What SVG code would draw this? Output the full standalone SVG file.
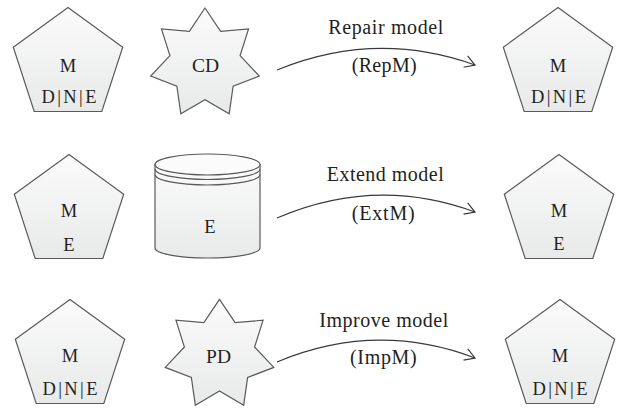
<svg xmlns="http://www.w3.org/2000/svg" xmlns:xlink="http://www.w3.org/1999/xlink" width="620" height="408" viewBox="0 0 620 408">
<style>
.shape{fill:url(#g);stroke:#5a5a5a;stroke-width:1.2;stroke-linejoin:miter}
text{font-family:'Liberation Serif','DejaVu Serif',serif;fill:#231f20}
.t{font-size:18.5px;text-anchor:middle}
.lbl{font-size:20px}
.conn{fill:none;stroke:#3a3a3a;stroke-width:1.2}
.lid{fill:#fbfbfb;stroke:#5a5a5a;stroke-width:1.2}
.ring{fill:none;stroke:#5a5a5a;stroke-width:1.2}
</style>
<defs>
<linearGradient id="g" x1="0" y1="0" x2="0" y2="1">
<stop offset="0" stop-color="#fbfbfb"/>
<stop offset="1" stop-color="#e8e9e9"/>
</linearGradient>
<polygon id="pent" points="0,-57.5 54.69,-17.77 33.8,46.52 -33.8,46.52 -54.69,-17.77"/>
<polygon id="star" points="0,-55.7 15.62,-32.44 43.55,-34.73 35.1,-8.01 54.3,12.39 28.14,22.45 24.17,50.19 0,36 -24.17,50.19 -28.14,22.45 -54.3,12.39 -35.1,-8.01 -43.55,-34.73 -15.62,-32.44"/>
<marker id="arr" viewBox="-12 -8 14 16" refX="0" refY="0" markerWidth="14" markerHeight="16" markerUnits="userSpaceOnUse" orient="auto">
<path d="M-10,-6 L0,0 L-10,6" fill="none" stroke="#3a3a3a" stroke-width="1.2"/>
</marker>
</defs>

<g id="m1">
<use xlink:href="#pent" href="#pent" class="shape" transform="translate(68,65)"/>
<text class="t" x="68" y="71.5">M</text>
<text class="t" x="69" y="103" textLength="55" lengthAdjust="spacing">D|N|E</text>
</g>
<g id="cd">
<use xlink:href="#star" href="#star" class="shape" transform="translate(205,63.7)"/>
<text class="t" x="205.5" y="72" style="font-size:19.5px">CD</text>
</g>
<g id="m1r">
<use xlink:href="#pent" href="#pent" class="shape" transform="translate(558,65)"/>
<text class="t" x="558" y="71.5">M</text>
<text class="t" x="558.5" y="103" textLength="55" lengthAdjust="spacing">D|N|E</text>
</g>

<g id="m2">
<use xlink:href="#pent" href="#pent" class="shape" transform="translate(69,212)"/>
<text class="t" x="69" y="217">M</text>
<text class="t" x="69" y="251">E</text>
</g>
<g id="e">
<path class="shape" d="M155,164.5 L155,248 A52.5,10 0 0 0 260,248 L260,164.5 Z"/>
<ellipse class="lid" cx="207.5" cy="164.5" rx="52.5" ry="10.5"/>
<path class="ring" d="M155,169 A52.5,10.5 0 0 0 260,169 M155,174.5 A52.5,10.5 0 0 0 260,174.5"/>
<text class="t" x="210" y="233">E</text>
</g>
<g id="m2r">
<use xlink:href="#pent" href="#pent" class="shape" transform="translate(559,212)"/>
<text class="t" x="559" y="217">M</text>
<text class="t" x="559" y="250">E</text>
</g>

<g id="m3">
<use xlink:href="#pent" href="#pent" class="shape" transform="translate(70,357)"/>
<text class="t" x="70" y="362">M</text>
<text class="t" x="70" y="395" textLength="55" lengthAdjust="spacing">D|N|E</text>
</g>
<g id="pd">
<use xlink:href="#star" href="#star" class="shape" transform="translate(219.5,355)"/>
<text class="t" x="218.5" y="363" style="font-size:19.5px">PD</text>
</g>
<g id="m3r">
<use xlink:href="#pent" href="#pent" class="shape" transform="translate(560,357)"/>
<text class="t" x="560" y="362">M</text>
<text class="t" x="560" y="395" textLength="55" lengthAdjust="spacing">D|N|E</text>
</g>

<g id="connectors">
<path class="conn" d="M277,70 Q376,29.5 475,65" marker-end="url(#arr)"/>
<path class="conn" d="M277,218 Q376,175.5 475,212" marker-end="url(#arr)"/>
<path class="conn" d="M277,362 Q376,320.5 475,358" marker-end="url(#arr)"/>
<text class="lbl" x="328.3" y="34.3" textLength="115" lengthAdjust="spacing">Repair model</text>
<text class="lbl" x="351.7" y="72" textLength="65" lengthAdjust="spacing">(RepM)</text>
<text class="lbl" x="326.7" y="180.7" textLength="117" lengthAdjust="spacing">Extend model</text>
<text class="lbl" x="351.7" y="220" textLength="63" lengthAdjust="spacing">(ExtM)</text>
<text class="lbl" x="319.3" y="327" textLength="129" lengthAdjust="spacing">Improve model</text>
<text class="lbl" x="350" y="364" textLength="66.7" lengthAdjust="spacing">(ImpM)</text>
</g>
</svg>
